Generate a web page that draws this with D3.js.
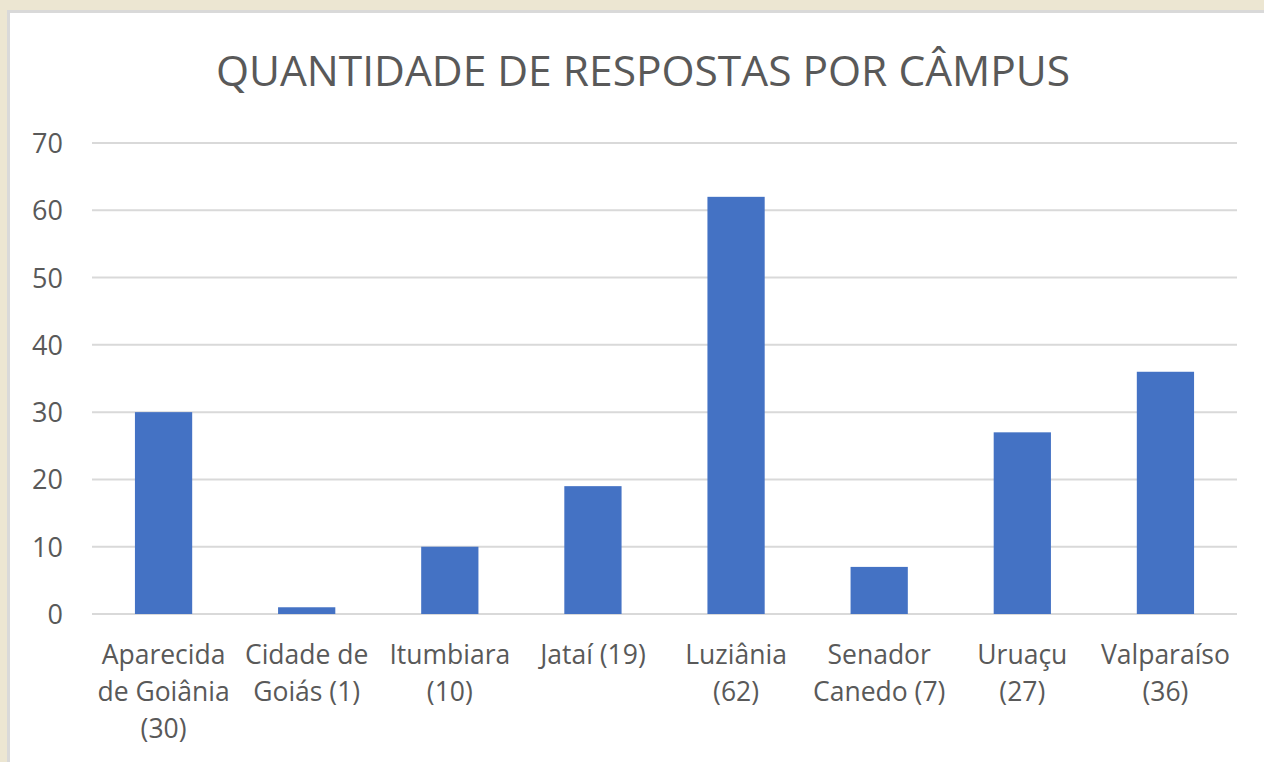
<!DOCTYPE html>
<html>
<head>
<meta charset="utf-8">
<script src="https://cdn.jsdelivr.net/npm/d3@7"></script>
<style>
  html, body { margin: 0; padding: 0; background: #ece6d2; }
  svg { display: block; }
  text { font-family: "Open Sans", "Noto Sans", sans-serif; fill: #595959; }
</style>
</head>
<body>
<svg class="chart" width="1264" height="762"></svg>
<script>
const title = "QUANTIDADE DE RESPOSTAS POR CÂMPUS";
const campi = ["Aparecida de Goiânia", "Cidade de Goiás", "Itumbiara", "Jataí",
               "Luziânia", "Senador Canedo", "Uruaçu", "Valparaíso"];
const respostas = [30, 1, 10, 19, 62, 7, 27, 36];
// how the category labels wrap in the original
const tickLines = [
    ["Aparecida", "de Goiânia", "(30)"],
    ["Cidade de", "Goiás (1)"],
    ["Itumbiara", "(10)"],
    ["Jataí (19)"],
    ["Luziânia", "(62)"],
    ["Senador", "Canedo (7)"],
    ["Uruaçu", "(27)"],
    ["Valparaíso", "(36)"]
];
const yTicks = [0, 10, 20, 30, 40, 50, 60, 70];

const svg = d3.select("svg.chart");

// white chart panel with thin grey border
svg.append("rect")
    .attr("x", 8.5).attr("y", 11.5)
    .attr("width", 1264).attr("height", 762)
    .attr("fill", "#ffffff")
    .attr("stroke", "#d9d9d9")
    .attr("stroke-width", 3);

const plot = {left: 92, right: 1237, top: 143, bottom: 614};

const x = d3.scaleBand()
    .domain(campi)
    .range([plot.left, plot.right])
    .paddingInner(0.6)
    .paddingOuter(0.3);

const y = d3.scaleLinear()
    .domain([0, 70])
    .range([plot.bottom, plot.top]);

svg.append("text")
    .attr("x", 643).attr("y", 86)
    .attr("text-anchor", "middle")
    .style("font-size", "42.5px")
    .text(title);

// gridlines
svg.append("g")
  .selectAll("line")
    .data(yTicks)
  .join("line")
    .attr("x1", plot.left).attr("x2", plot.right)
    .attr("y1", d => y(d)).attr("y2", d => y(d))
    .attr("stroke", "#d9d9d9")
    .attr("stroke-width", 2);

// y labels
svg.append("g")
  .selectAll("text")
    .data(yTicks)
  .join("text")
    .attr("x", 63)
    .attr("y", d => y(d) + 10)
    .attr("text-anchor", "end")
    .style("font-size", "27px")
    .text(d => d);

// bars
svg.append("g")
  .selectAll("rect")
    .data(respostas)
  .join("rect")
    .attr("x", (d, i) => x(campi[i]))
    .attr("y", d => y(d))
    .attr("width", x.bandwidth())
    .attr("height", d => y(0) - y(d))
    .attr("fill", "#4472c4");

// category labels
const lbl = svg.append("g")
  .selectAll("text")
    .data(campi)
  .join("text")
    .attr("x", d => x(d) + x.bandwidth() / 2)
    .attr("text-anchor", "middle")
    .style("font-size", "26.5px");

lbl.selectAll("tspan")
    .data((d, i) => tickLines[i])
  .join("tspan")
    .attr("x", function() { return this.parentNode.getAttribute("x"); })
    .attr("y", (d, j) => 664 + j * 37)
    .text(d => d);
</script>
</body>
</html>
